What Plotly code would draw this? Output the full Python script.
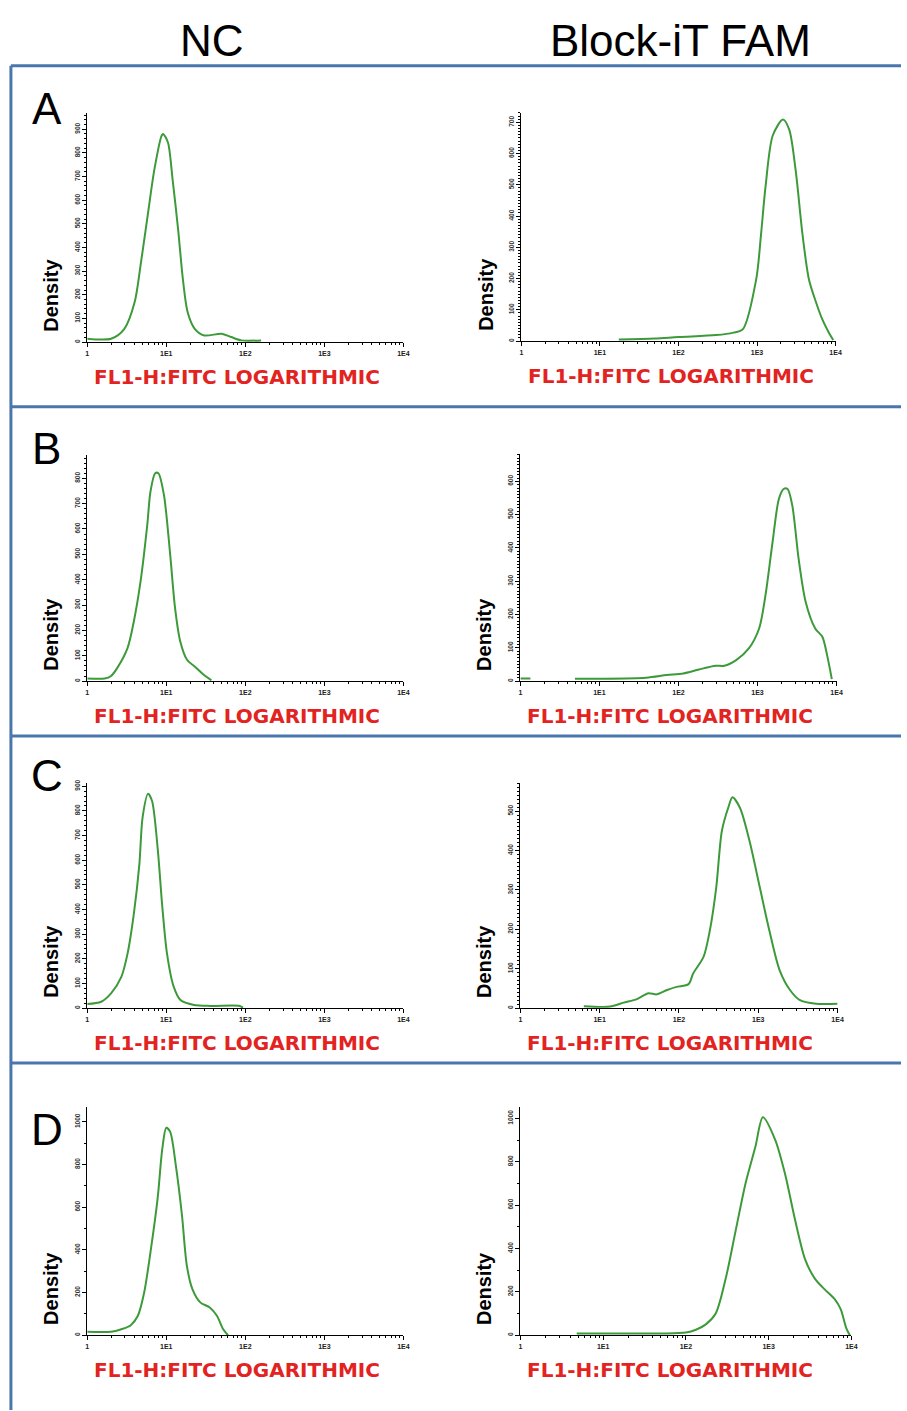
import plotly.graph_objects as go

W, H = 907, 1411

# ---------------- data (fluorescence intensity, density) ----------------
a_nc_x = [1, 2.0, 2.95, 3.98, 4.79, 5.89, 7.08, 8.71, 9.12, 10.5, 12.0, 14.1, 16.2, 18.6, 22.9, 30.2, 50.1, 66.1, 89.1, 158]
a_nc_y = [14, 14, 56, 169, 338, 548, 731, 872, 880, 844, 689, 478, 267, 127, 56, 28, 35, 21, 7, 7]

a_fam_x = [17.4, 50, 100, 300, 501, 661, 977, 1122, 1288, 1585, 2138, 2570, 3090, 3802, 4571, 5623, 6761, 8128, 9333]
a_fam_y = [5, 8, 13, 19, 27, 38, 198, 339, 498, 658, 709, 677, 550, 339, 198, 125, 70, 29, 3]

b_nc_x = [1, 1.66, 2.0, 2.4, 3.24, 3.89, 4.73, 5.75, 6.31, 7.24, 7.94, 9.33, 11.2, 12.9, 15.0, 18.2, 24.0, 29.5, 37.2]
b_nc_y = [10, 10, 20, 52, 131, 236, 394, 617, 748, 820, 820, 735, 499, 289, 157, 85, 52, 26, 3]

b_fam_x = [1, 1.34, None, 4.9, 10, 38.9, 70.8, 115, 182, 295, 380, 537, 776, 1047, 1259, 1549, 1862, 2138, 2399, 2754, 3311, 4074, 5370, 6607, 7586, 8710]
b_fam_y = [8, 8, None, 7, 7, 10, 18, 23, 35, 46, 46, 63, 98, 158, 257, 417, 547, 577, 577, 527, 367, 237, 158, 133, 78, 6]

c_nc_x = [1, 1.5, 2.0, 2.7, 3.24, 3.89, 4.57, 5.01, 5.89, 6.61, 7.76, 8.91, 10.2, 12.4, 15.1, 22.4, 36.3, 85.1, 93.3]
c_nc_y = [17, 26, 60, 127, 222, 383, 585, 773, 870, 840, 652, 410, 222, 87, 33, 13, 9, 9, 2]

c_fam_x = [6.31, 13.5, 20.0, 29.5, 41.2, 52.5, 70.8, 93.3, 132, 151, 204, 245, 295, 347, 417, 473, 589, 776, 1047, 1380, 1862, 2512, 3311, 5370, 10000]
c_fam_y = [5, 4, 14, 23, 38, 35, 46, 54, 61, 88, 130, 197, 306, 449, 508, 535, 508, 424, 306, 197, 96, 46, 21, 11, 11]

d_nc_x = [1, 2.0, 2.7, 3.55, 4.37, 5.25, 6.31, 7.76, 8.91, 10, 11.2, 13.2, 15.8, 18.2, 21.4, 26.9, 35.5, 43.7, 52.5, 60.3]
d_nc_y = [16, 16, 28, 47, 91, 200, 389, 639, 874, 972, 953, 796, 561, 326, 216, 154, 130, 91, 28, 0]

d_fam_x = [4.79, 10, 50, 100, 132, 174, 229, 302, 398, 525, 692, 851, 1202, 1585, 2089, 2754, 3631, 4786, 6310, 7413, 8710, 9550]
d_fam_y = [8, 8, 8, 12, 25, 50, 100, 260, 480, 700, 870, 1005, 900, 740, 530, 350, 260, 210, 165, 120, 30, 0]

x_tick_vals = [1, 10, 100, 1000, 10000]
x_tick_text = ["1", "1E1", "1E2", "1E3", "1E4"]
x_minor_vals = [m * 10 ** d for d in range(4) for m in range(2, 10)]

column_titles = ["NC", "Block-iT FAM"]
row_letters = ["A", "B", "C", "D"]
x_label = "FL1-H:FITC LOGARITHMIC"
y_label = "Density"

# ---------------- layout geometry (pixels) ----------------
# (x-series, y-series, x0, x1, ytop, yzero, ymax, ydtick, yminor)
panels = [
    (a_nc_x, a_nc_y, 86, 405, 110, 340, 970, 100, 20),
    (a_fam_x, a_fam_y, 524, 841, 110, 339, 731, 100, 10),
    (b_nc_x, b_nc_y, 86, 405, 453, 680, 893, 100, 20),
    (b_fam_x, b_fam_y, 523, 842, 452, 680, 683, 100, 10),
    (c_nc_x, c_nc_y, 86, 405, 782, 1008, 914, 100, 20),
    (c_fam_x, c_fam_y, 523, 843, 782, 1008, 572, 100, 10),
    (d_nc_x, d_nc_y, 86, 405, 1107, 1336, 1070, 200, 100),
    (d_fam_x, d_fam_y, 523, 857, 1107, 1336, 1053, 200, 100),
]

GREEN = "#3d9a3a"
RED = "#e2231f"
BLUE = "#4a76ae"
FONT = "Liberation Sans"

fig = go.Figure()
layout = dict(
    width=W, height=H, margin=dict(l=0, r=0, t=0, b=0),
    paper_bgcolor="white", plot_bgcolor="white", showlegend=False,
)
annotations = []

for i, (xs, ys, x0, x1, ytop, yzero, ymax, ydt, ymin) in enumerate(panels, start=1):
    sfx = "" if i == 1 else str(i)
    fig.add_trace(go.Scatter(
        x=xs, y=ys, mode="lines", xaxis="x" + sfx, yaxis="y" + sfx,
        line=dict(color=GREEN, width=2, shape="spline", smoothing=0.8),
        connectgaps=False, hoverinfo="skip",
    ))
    layout["xaxis" + sfx] = dict(
        domain=[x0 / W, x1 / W], anchor="y" + sfx, type="log", range=[0, 4],
        tickmode="array", tickvals=x_tick_vals, ticktext=x_tick_text,
        ticks="outside", ticklen=4, tickwidth=1, tickcolor="black",
        showline=True, linecolor="black", linewidth=1.2,
        showgrid=False, zeroline=False,
        tickfont=dict(size=7, family=FONT, color="#222", weight="bold"),
        minor=dict(tickmode="array", tickvals=x_minor_vals, ticks="outside",
                   ticklen=2, tickcolor="black", showgrid=False),
    )
    layout["yaxis" + sfx] = dict(
        domain=[1 - yzero / H, 1 - ytop / H], anchor="x" + sfx, range=[0, ymax],
        tick0=0, dtick=ydt, ticks="outside", ticklen=4, tickwidth=1, tickcolor="black",
        tickangle=-90, showline=True, linecolor="black", linewidth=1.2,
        showgrid=False, zeroline=False,
        tickfont=dict(size=6.5, family=FONT, color="#333", weight="bold"),
        minor=dict(dtick=ymin, tick0=0, ticks="outside", ticklen=2,
                   tickcolor="black", showgrid=False),
    )
    # Density label
    annotations.append(dict(
        text=y_label, xref="paper", yref="paper",
        x=(x0 - 36) / W, y=1 - (yzero - 47) / H, showarrow=False, textangle=-90,
        font=dict(size=20, family=FONT, color="black", weight="bold"),
        xanchor="center", yanchor="middle",
    ))
    # red x label
    annotations.append(dict(
        text=x_label, xref="paper", yref="paper",
        x=(x0 + 5) / W, y=1 - (yzero + 35) / H, showarrow=False,
        font=dict(size=20, family="DejaVu Sans", color=RED, weight="bold"),
        xanchor="left", yanchor="middle",
    ))

# column headers
for txt, cx in zip(column_titles, [212, 685]):
    annotations.append(dict(
        text=txt, xref="paper", yref="paper", x=cx / W, y=1 - 38 / H,
        showarrow=False, font=dict(size=44, family=FONT, color="black"),
        xanchor="center", yanchor="middle",
    ))

# row letters
for txt, cy in zip(row_letters, [106, 447, 775, 1130]):
    annotations.append(dict(
        text=txt, xref="paper", yref="paper", x=45 / W, y=1 - cy / H,
        showarrow=False, font=dict(size=44, family=FONT, color="black"),
        xanchor="center", yanchor="middle",
    ))

# blue frame and separators
shapes = []
for py in [63, 405, 735, 1063]:
    shapes.append(dict(type="line", xref="paper", yref="paper", x0=9 / W, x1=1,
                       y0=1 - py / H, y1=1 - py / H, line=dict(color=BLUE, width=3)))
shapes.append(dict(type="line", xref="paper", yref="paper", x0=9 / W, x1=9 / W,
                   y0=0, y1=1 - 63 / H, line=dict(color=BLUE, width=3)))

layout["annotations"] = annotations
layout["shapes"] = shapes
fig.update_layout(**layout)
fig.write_html("out.html", config={"displayModeBar": False},
               post_script="document.body.style.margin='0';")
